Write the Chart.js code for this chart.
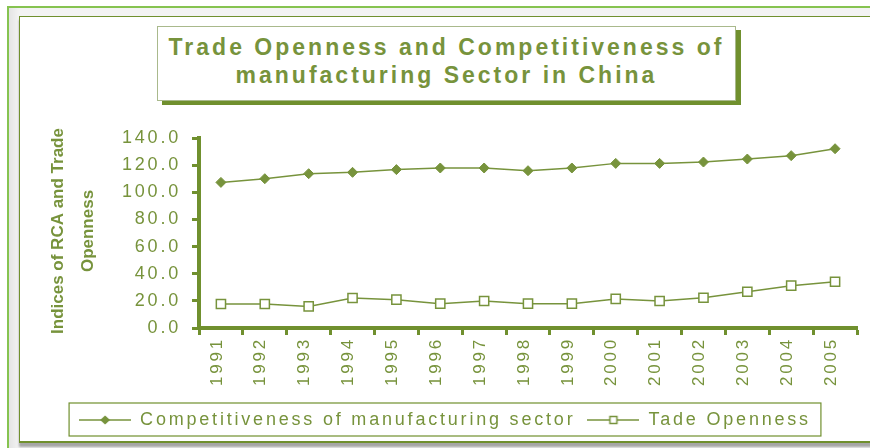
<!DOCTYPE html>
<html>
<head>
<meta charset="utf-8">
<script src="https://cdn.jsdelivr.net/npm/chart.js@4/dist/chart.umd.min.js"></script>
<style>
  body { margin: 0; width: 870px; height: 448px; overflow: hidden; background: #fff; position: relative; font-family: "Liberation Sans", Arial, sans-serif; }
  #frame { position: absolute; left: 7px; top: 6px; width: 900px; height: 460px; border-left: 2px solid #86c350; border-top: 2px solid #86c350; background: linear-gradient(to right, #e4e4e4, #f3f3f3 10px); }
  #panel { position: absolute; left: 19px; top: 16px; width: 880px; height: 424px; background: #fff; border-left: 1px solid #70902e; border-top: 1px solid #70902e; border-bottom: 2px solid #70902e; box-shadow: 0 4px 2px #a6a6a6; }
  #titlebox { position: absolute; left: 157px; top: 26px; width: 577px; height: 73px; background: #fff; border: 1px solid #a9b98c; box-shadow: 5px 4px 0 #70902e; }
  #title { position: absolute; left: 157px; top: 33px; width: 579px; text-align: center; font-weight: bold; font-size: 23px; line-height: 28px; letter-spacing: 3px; color: #77933c; }
  #wrap { position: absolute; left: 0; top: 0; width: 870px; height: 448px; }
</style>
</head>
<body>
<div id="frame"></div>
<div id="panel"></div>
<div id="titlebox"></div>
<div id="title">Trade Openness and Competitiveness of<br>manufacturing Sector in China</div>
<div id="wrap"><canvas id="chart"></canvas></div>
<script>
const years = ['1991', '1992', '1993', '1994', '1995', '1996', '1997', '1998', '1999', '2000', '2001', '2002', '2003', '2004', '2005'];
const competitiveness = [107.3, 110.0, 113.7, 114.7, 116.7, 117.9, 117.9, 115.9, 117.9, 121.3, 121.3, 122.3, 124.5, 127.0, 132.1];
const openness = [17.7, 17.7, 15.9, 22.1, 20.9, 17.9, 19.9, 17.9, 17.9, 21.4, 19.9, 22.3, 26.7, 31.2, 34.1];
const seriesNames = ['Competitiveness of manufacturing sector', 'Tade Openness'];
const yTitle = ['Indices of RCA and Trade', 'Openness'];

const green = '#77933c';
const axisGreen = '#70902e';

// little line+marker pictures for the legend
function legendIcon(square) {
  const c = document.createElement('canvas');
  c.width = 52; c.height = 12;
  const g = c.getContext('2d');
  g.strokeStyle = green;
  g.lineWidth = 1.5;
  g.beginPath(); g.moveTo(0, 6); g.lineTo(52, 6); g.stroke();
  if (square) {
    g.fillStyle = '#fff';
    g.fillRect(22.5, 2.5, 7, 7);
    g.strokeRect(22.5, 2.5, 7, 7);
  } else {
    g.fillStyle = green;
    g.beginPath(); g.moveTo(21, 6); g.lineTo(26, 1.5); g.lineTo(31, 6); g.lineTo(26, 10.5); g.closePath(); g.fill();
  }
  return c;
}
const icons = [legendIcon(false), legendIcon(true)];

const extras = {
  id: 'extras',
  beforeLayout(chart) { chart.ctx.letterSpacing = '2.8px'; },
  beforeDraw(chart) { chart.ctx.letterSpacing = '2.8px'; },
  afterDraw(chart) {
    const ctx = chart.ctx;
    ctx.save();
    // y axis title, two lines
    ctx.letterSpacing = '0px';
    ctx.fillStyle = green;
    ctx.font = 'bold 17px "Liberation Sans", Arial';
    ctx.textAlign = 'center';
    ctx.textBaseline = 'middle';
    [58, 88].forEach((x, i) => {
      ctx.save();
      ctx.translate(x, 231);
      ctx.rotate(-Math.PI / 2);
      ctx.fillText(yTitle[i], 0, 0);
      ctx.restore();
    });
    // frame round the legend
    const hb = chart.legend.legendHitBoxes;
    if (hb && hb.length) {
      const last = hb[hb.length - 1];
      const x1 = hb[0].left - 10, x2 = last.left + last.width + 10;
      const y1 = hb[0].top - 8, y2 = hb[0].top + hb[0].height + 7;
      ctx.strokeStyle = axisGreen;
      ctx.lineWidth = 1.2;
      ctx.strokeRect(x1, y1, x2 - x1, y2 - y1);
    }
    ctx.restore();
  }
};

new Chart(document.getElementById('chart'), {
  type: 'line',
  data: {
    labels: years,
    datasets: [
      {
        label: seriesNames[0],
        data: competitiveness,
        borderColor: green,
        backgroundColor: green,
        borderWidth: 1.5,
        pointStyle: 'rectRot',
        pointRadius: 5,
        pointBackgroundColor: green,
        pointBorderColor: green,
        pointBorderWidth: 1
      },
      {
        label: seriesNames[1],
        data: openness,
        borderColor: green,
        backgroundColor: '#fff',
        borderWidth: 1.5,
        pointStyle: 'rect',
        pointRadius: 6.5,
        pointBackgroundColor: '#fff',
        pointBorderColor: green,
        pointBorderWidth: 1.5
      }
    ]
  },
  options: {
    responsive: true,
    maintainAspectRatio: false,
    animation: false,
    layout: { padding: { left: 33, right: 13, top: 138, bottom: 9 } },
    plugins: {
      title: { display: false },
      tooltip: { enabled: false },
      legend: {
        position: 'bottom',
        labels: {
          usePointStyle: true,
          pointStyleWidth: 52,
          padding: 12,
          color: green,
          font: { family: '"Liberation Sans", Arial', size: 18 },
          generateLabels(chart) {
            const items = Chart.defaults.plugins.legend.labels.generateLabels(chart);
            items.forEach((it, i) => { it.pointStyle = icons[i]; });
            return items;
          }
        }
      }
    },
    scales: {
      x: {
        offset: true,
        grid: { offset: true, drawOnChartArea: false, tickLength: 7, tickWidth: 3, tickColor: axisGreen },
        border: { display: true, width: 4, color: axisGreen },
        ticks: {
          color: green,
          font: { family: '"Liberation Sans", Arial', size: 17 },
          minRotation: 90,
          maxRotation: 90,
          padding: 2,
          labelOffset: -4
        },
        afterFit(scale) { scale.height = 71; }
      },
      y: {
        min: 0,
        max: 140,
        grid: { drawOnChartArea: false, tickLength: 7, tickWidth: 3, tickColor: axisGreen },
        border: { display: true, width: 4, color: axisGreen },
        ticks: {
          stepSize: 20,
          color: green,
          padding: 11,
          font: { family: '"Liberation Sans", Arial', size: 18 },
          callback: v => v.toFixed(1)
        },
        afterFit(scale) { scale.width = 166; }
      }
    }
  },
  plugins: [extras]
});
</script>
</body>
</html>
